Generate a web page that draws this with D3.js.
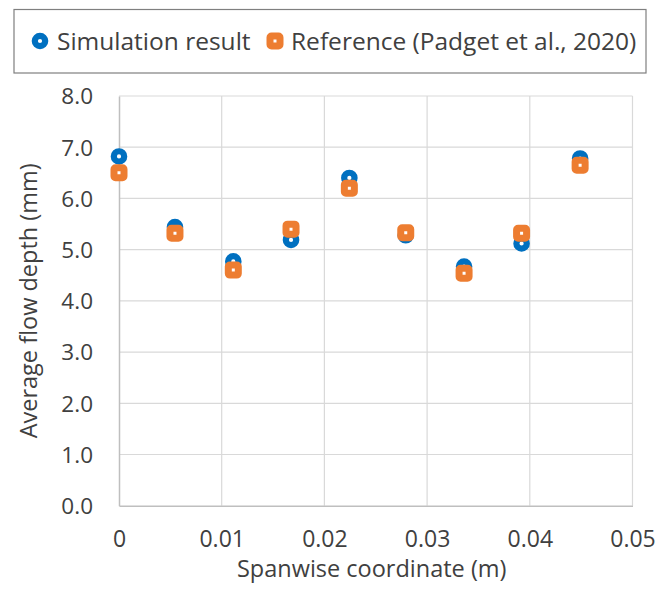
<!DOCTYPE html>
<html>
<head>
<meta charset="utf-8">
<script src="https://cdn.jsdelivr.net/npm/d3@7"></script>
<style>
  html, body { margin: 0; padding: 0; background: #fff; }
  text { font-family: "Open Sans", "Noto Sans", sans-serif; fill: #404040; }
</style>
</head>
<body>
<svg id="chart" width="672" height="593"></svg>
<script>
// data
const spanwise = [0, 0.00545, 0.01113, 0.01675, 0.02243, 0.02792, 0.0336, 0.0392, 0.0449];
const simulation = [6.82, 5.44, 4.77, 5.19, 6.40, 5.28, 4.67, 5.12, 6.78];
const reference = [6.50, 5.32, 4.60, 5.40, 6.20, 5.33, 4.54, 5.32, 6.65];
const xTicks = [0, 0.01, 0.02, 0.03, 0.04, 0.05];
const yTicks = [0, 1, 2, 3, 4, 5, 6, 7, 8];
const seriesNames = ["Simulation result", "Reference (Padget et al., 2020)"];

const blue = "#0070c0",
    orange = "#ed7d31";

var plot = { left: 119, right: 632.5, top: 96, bottom: 505.7 };

const svg = d3.select("#chart");

var x = d3.scaleLinear().domain([0, 0.05]).range([plot.left, plot.right]);
var y = d3.scaleLinear().domain([0, 8]).range([plot.bottom, plot.top]);

// grid
svg.append("g").selectAll("line")
    .data(yTicks.slice(1))
    .enter().append("line")
    .attr("x1", plot.left).attr("x2", plot.right)
    .attr("y1", d => y(d)).attr("y2", d => y(d))
    .style("stroke", "#d9d9d9").style("stroke-width", 1.2);

svg.append("g").selectAll("line")
    .data(xTicks.slice(1))
    .enter().append("line")
    .attr("x1", d => x(d)).attr("x2", d => x(d))
    .attr("y1", plot.top).attr("y2", plot.bottom)
    .style("stroke", "#d9d9d9").style("stroke-width", 1.2);

// axes (lines only, labels below)
var xAxis = svg.append("g")
    .attr("transform", "translate(0," + plot.bottom + ")")
    .call(d3.axisBottom(x).tickValues(xTicks).tickSize(0)
        .tickFormat(d => d === 0 ? "0" : d3.format(".2f")(d)));
xAxis.select(".domain").style("stroke", "#bfbfbf").style("stroke-width", 1.5);
xAxis.selectAll("text")
    .attr("y", 41.5).attr("dy", 0)
    .style("font-size", "23px").style("font-family", null);

var yAxis = svg.append("g")
    .attr("transform", "translate(" + plot.left + ",0)")
    .call(d3.axisLeft(y).tickValues(yTicks).tickSize(0).tickFormat(d3.format(".1f")));
yAxis.select(".domain").style("stroke", "#bfbfbf").style("stroke-width", 1.5);
yAxis.selectAll("text")
    .attr("x", -26).attr("dy", "0.35em")
    .style("font-size", "22.5px").style("font-family", null);

// axis titles
svg.append("text")
    .attr("x", (plot.left + plot.right) / 2 - 4)
    .attr("y", 577)
    .attr("text-anchor", "middle")
    .style("font-size", "23.5px")
    .text("Spanwise coordinate (m)");

svg.append("text")
    .attr("transform", "translate(37," + ((plot.top + plot.bottom) / 2) + ") rotate(-90)")
    .attr("text-anchor", "middle")
    .style("font-size", "23.5px")
    .text("Average flow depth (mm)");

// markers
function circleMark(g) {
    g.attr("r", 5.2).style("fill", "#fff").style("stroke", blue).style("stroke-width", 6.2);
}
function squareMark(g) {
    g.attr("width", 10).attr("height", 10).attr("rx", 1.5)
        .style("fill", "#fff").style("stroke", orange).style("stroke-width", 7);
}

svg.append("g").attr("class", "sim")
    .selectAll("circle")
    .data(simulation)
    .enter().append("circle")
    .attr("cx", (d, i) => x(spanwise[i]))
    .attr("cy", d => y(d))
    .call(circleMark);

svg.append("g").attr("class", "ref")
    .selectAll("rect")
    .data(reference)
    .enter().append("rect")
    .attr("x", (d, i) => x(spanwise[i]) - 5)
    .attr("y", d => y(d) - 5)
    .call(squareMark);

// legend
var legend = svg.append("g").attr("class", "legend");
legend.append("rect")
    .attr("x", 14).attr("y", 9.5).attr("width", 632).attr("height", 63.5)
    .style("fill", "#fff").style("stroke", "#7f7f7f").style("stroke-width", 1.2);

legend.append("circle").attr("cx", 40).attr("cy", 41).call(circleMark);
legend.append("text").attr("x", 57).attr("y", 49.5)
    .style("font-size", "24.5px").text(seriesNames[0]);

legend.append("rect").attr("x", 270).attr("y", 36).call(squareMark);
legend.append("text").attr("x", 291).attr("y", 49.5)
    .style("font-size", "24.5px").text(seriesNames[1]);
</script>
</body>
</html>
